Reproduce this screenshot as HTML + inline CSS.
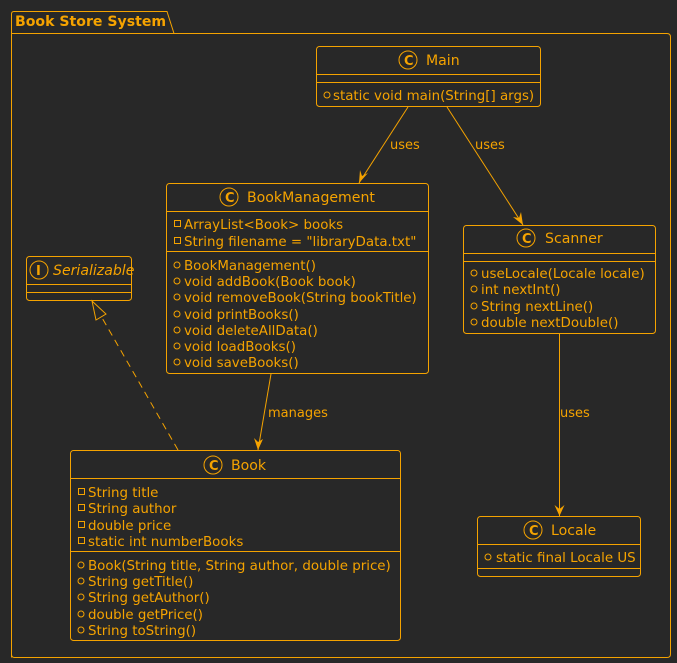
<!DOCTYPE html>
<html><head><meta charset="utf-8"><style>
html,body{margin:0;padding:0;background:#282828;}
svg{display:block}
text{font-family:"DejaVu Sans","Liberation Sans",sans-serif;fill:#F5A300;font-size:13.4px}
.b{font-weight:bold;font-size:14.1px}
.t{font-size:14.1px}
.ic{font-weight:bold;font-size:13px}
.l{font-size:13px}
</style></head><body>
<svg width="677" height="663" viewBox="0 0 677 663" xmlns="http://www.w3.org/2000/svg">
<g fill="none" stroke="#F5A300" stroke-width="1">
<path d="M11.5,657.5 V14 Q11.5,11.5 14,11.5 H167 L174,33.5 H667 Q670.5,33.5 670.5,37 V654 Q670.5,657.5 667,657.5 H14.5 Q11.5,657.5 11.5,654.5"/>
<line x1="11.5" y1="33.5" x2="174" y2="33.5"/>
<rect x="316.5" y="46.5" width="224" height="60" rx="3"/>
<line x1="316.5" y1="74.5" x2="540.5" y2="74.5"/><line x1="316.5" y1="82.5" x2="540.5" y2="82.5"/>
<circle cx="408" cy="60" r="9"/>
<circle cx="327" cy="95" r="3"/>
<rect x="166.5" y="183.5" width="262" height="190" rx="3"/>
<line x1="166.5" y1="211.5" x2="428.5" y2="211.5"/><line x1="166.5" y1="251.5" x2="428.5" y2="251.5"/>
<circle cx="229" cy="197" r="9"/>
<rect x="174.5" y="220.5" width="6" height="6"/><rect x="174.5" y="237.5" width="6" height="6"/>
<circle cx="177" cy="265" r="3"/><circle cx="177" cy="281" r="3"/><circle cx="177" cy="297" r="3"/><circle cx="177" cy="314" r="3"/><circle cx="177" cy="330" r="3"/><circle cx="177" cy="346" r="3"/><circle cx="177" cy="362" r="3"/>
<rect x="26.5" y="256.5" width="105" height="44" rx="3"/>
<line x1="26.5" y1="284.5" x2="131.5" y2="284.5"/><line x1="26.5" y1="292.5" x2="131.5" y2="292.5"/>
<circle cx="39" cy="270" r="9"/>
<rect x="463.5" y="225.5" width="192" height="108" rx="3"/>
<line x1="463.5" y1="253.5" x2="655.5" y2="253.5"/><line x1="463.5" y1="261.5" x2="655.5" y2="261.5"/>
<circle cx="526" cy="238" r="9"/>
<circle cx="474" cy="273" r="3"/><circle cx="474" cy="289" r="3"/><circle cx="474" cy="306" r="3"/><circle cx="474" cy="322" r="3"/>
<rect x="477.5" y="516.5" width="163" height="60" rx="3"/>
<line x1="477.5" y1="544.5" x2="640.5" y2="544.5"/><line x1="477.5" y1="568.5" x2="640.5" y2="568.5"/>
<circle cx="533" cy="530" r="9"/>
<circle cx="488" cy="557" r="3"/>
<rect x="70.5" y="450.5" width="330" height="190" rx="3"/>
<line x1="70.5" y1="478.5" x2="400.5" y2="478.5"/><line x1="70.5" y1="551.5" x2="400.5" y2="551.5"/>
<circle cx="213" cy="465" r="9"/>
<rect x="78.5" y="488.5" width="6" height="6"/><rect x="78.5" y="504.5" width="6" height="6"/><rect x="78.5" y="521.5" width="6" height="6"/><rect x="78.5" y="537.5" width="6" height="6"/>
<circle cx="81" cy="565" r="3"/><circle cx="81" cy="581" r="3"/><circle cx="81" cy="597" r="3"/><circle cx="81" cy="614" r="3"/><circle cx="81" cy="630" r="3"/>
<line x1="408" y1="107" x2="359" y2="183"/>
<line x1="447" y1="107" x2="523" y2="225"/>
<line x1="559.5" y1="334" x2="559.5" y2="516"/>
<line x1="271" y1="374" x2="258" y2="450"/>
<line x1="178" y1="450" x2="101" y2="316" stroke-dasharray="7,5"/>
<polygon points="92,301 106,314 96,320"/>
</g>
<g fill="#F5A300" stroke="none">
<polygon points="359,183 360,170 362,176 368,173"/>
<polygon points="523,225 513,217 519,218 521,212"/>
<polygon points="559.5,516 554.5,505 559.5,509 564.5,505"/>
<polygon points="258,450 254,438 258,442 263,439"/>
</g>
<text x="15" y="26" class="b">Book Store System</text>
<text x="404" y="65" class="ic">C</text><text x="426" y="65" class="t">Main</text>
<text x="333" y="100">static void main(String[] args)</text>
<text x="225" y="202" class="ic">C</text><text x="247" y="202" class="t">BookManagement</text>
<text x="184" y="229">ArrayList&lt;Book&gt; books</text>
<text x="184" y="246">String filename = "libraryData.txt"</text>
<text x="184" y="270">BookManagement()</text>
<text x="184" y="286">void addBook(Book book)</text>
<text x="184" y="302">void removeBook(String bookTitle)</text>
<text x="184" y="319">void printBooks()</text>
<text x="184" y="335">void deleteAllData()</text>
<text x="184" y="351">void loadBooks()</text>
<text x="184" y="367">void saveBooks()</text>
<text x="36" y="275" class="ic">I</text><text x="53" y="275" class="t" font-style="italic">Serializable</text>
<text x="522" y="243" class="ic">C</text><text x="545" y="243" class="t">Scanner</text>
<text x="481" y="278">useLocale(Locale locale)</text>
<text x="481" y="294">int nextInt()</text>
<text x="481" y="311">String nextLine()</text>
<text x="481" y="327">double nextDouble()</text>
<text x="529" y="535" class="ic">C</text><text x="551" y="535" class="t">Locale</text>
<text x="496" y="562">static final Locale US</text>
<text x="209" y="470" class="ic">C</text><text x="231" y="470" class="t">Book</text>
<text x="88" y="497">String title</text>
<text x="88" y="513">String author</text>
<text x="88" y="530">double price</text>
<text x="88" y="546">static int numberBooks</text>
<text x="88" y="570">Book(String title, String author, double price)</text>
<text x="88" y="586">String getTitle()</text>
<text x="88" y="602">String getAuthor()</text>
<text x="88" y="619">double getPrice()</text>
<text x="88" y="635">String toString()</text>
<text x="390" y="149" class="l">uses</text>
<text x="475" y="149" class="l">uses</text>
<text x="560" y="417" class="l">uses</text>
<text x="268" y="417" class="l">manages</text>
</svg>
</body></html>
